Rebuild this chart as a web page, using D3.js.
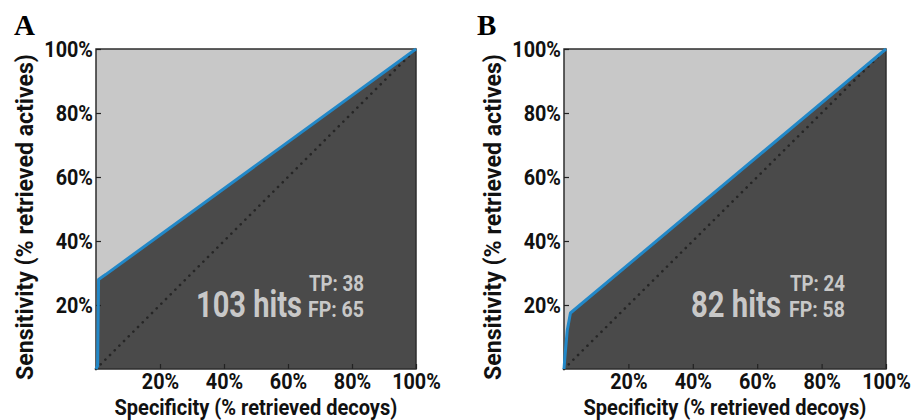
<!DOCTYPE html>
<html>
<head>
<meta charset="utf-8">
<script src="https://cdn.jsdelivr.net/npm/d3@7"></script>
<style>
  body { margin: 0; background: #fff; }
  svg text { font-family: Roboto, "Noto Sans", sans-serif; font-weight: bold; }
</style>
</head>
<body>
<svg id="chart" width="922" height="420"></svg>
<script>
// data
var panelLabels = ['A', 'B'];
var rocSpecA = [0, 0.5, 0.8, 3, 100];
var rocSensA = [0, 1, 28, 29.5, 100];
var rocSpecB = [0, 0.3, 1, 2, 100];
var rocSensB = [0, 4, 12, 17.5, 100];
var hits = [103, 82];
var truePos = [38, 24];
var falsePos = [65, 58];
var tickValues = [20, 40, 60, 80, 100];

// layout
var panelLeft = [96, 564];
var panelWidth = [320, 322];
var letterX = [14, 477];
var hitsEnd = [302, 781];     // right edge of the "n hits" text
var hitsLen = [106, 90];
var tpX = [308, 789];
var TOP = 49, BOTTOM = 369;

var LIGHT = '#c8c8c8', DARK = '#4a4a4a', BLUE = '#2288c8';

var svg = d3.select('#chart');

// squeeze a text horizontally (condensed look) so it is `w` px wide
function condense(t, x, y, w, rot){
  var len = t.node().getComputedTextLength();
  t.attr('transform', 'translate(' + x + ',' + y + ')' + (rot ? ' rotate(' + rot + ')' : '') +
    ' scale(' + (w / len) + ',1)');
}

function drawPanel(i, spec, sens){
  var x = d3.scaleLinear().domain([0, 100]).range([panelLeft[i], panelLeft[i] + panelWidth[i]]);
  var y = d3.scaleLinear().domain([0, 100]).range([BOTTOM, TOP]);
  var pts = spec.map(function(s, j){ return [s, sens[j]]; });
  var g = svg.append('g');

  // light background (not retrieved)
  g.append('rect')
    .attr('x', x(0)).attr('y', y(100))
    .attr('width', x(100) - x(0)).attr('height', y(0) - y(100))
    .attr('fill', LIGHT);

  // dark area under the roc curve
  var area = d3.area()
    .x(function(d){ return x(d[0]); })
    .y0(y(0))
    .y1(function(d){ return y(d[1]); });
  g.append('path').datum(pts).attr('d', area).attr('fill', DARK);

  // random diagonal, dotted
  g.append('line')
    .attr('x1', x(0)).attr('y1', y(0)).attr('x2', x(100)).attr('y2', y(100))
    .attr('stroke', '#262626').attr('stroke-width', 2.6)
    .attr('stroke-linecap', 'round')
    .attr('stroke-dasharray', '0.1 6.5');

  // frame
  g.append('rect')
    .attr('x', x(0)).attr('y', y(100))
    .attr('width', x(100) - x(0)).attr('height', y(0) - y(100))
    .attr('fill', 'none').attr('stroke', '#2e2e2e').attr('stroke-width', 1.5);

  // axes, ticks drawn inward
  var fmt = function(d){ return d + '%'; };
  var xAxis = d3.axisBottom(x).tickValues(tickValues).tickSizeInner(-5).tickSizeOuter(0).tickFormat(fmt);
  var yAxis = d3.axisLeft(y).tickValues(tickValues).tickSizeInner(-5).tickSizeOuter(0).tickFormat(fmt);

  var gx = g.append('g').attr('transform', 'translate(0,' + y(0) + ')').call(xAxis);
  var gy = g.append('g').attr('transform', 'translate(' + x(0) + ',0)').call(yAxis);
  [gx, gy].forEach(function(a){
    a.select('.domain').remove();
    a.selectAll('line').attr('stroke', '#222').attr('stroke-width', 1.2);
    a.selectAll('text').attr('fill', '#111').style('font-size', '22px');
  });
  gx.selectAll('text').attr('y', 0).attr('dy', 0).attr('transform', 'translate(0,20) scale(0.9,1)');
  gy.selectAll('text').attr('x', 0).attr('transform', 'translate(-3,0) scale(0.9,1)');

  // roc curve
  var line = d3.line().x(function(d){ return x(d[0]); }).y(function(d){ return y(d[1]); });
  g.append('path').datum(pts).attr('d', line)
    .attr('fill', 'none').attr('stroke', BLUE).attr('stroke-width', 3)
    .attr('stroke-linejoin', 'round');

  // hit counts
  var th = g.append('text').attr('fill', LIGHT).style('font-size', '37px').text(hits[i] + ' hits');
  condense(th, hitsEnd[i] - hitsLen[i], 317, hitsLen[i]);
  var tp = g.append('text').attr('fill', LIGHT).style('font-size', '22px').text('TP: ' + truePos[i]);
  condense(tp, tpX[i] + 1, 291, 55);
  var fp = g.append('text').attr('fill', LIGHT).style('font-size', '22px').text('FP: ' + falsePos[i]);
  condense(fp, tpX[i], 317, 56);

  // axis titles
  var xt = g.append('text').attr('fill', '#111').style('font-size', '22px')
    .text('Specificity (% retrieved decoys)');
  condense(xt, x(50) - 141.5, 415, 283);
  var yt = g.append('text').attr('fill', '#111').style('font-size', '23px')
    .text('Sensitivity (% retrieved actives)');
  condense(yt, x(0) - 63, 217 + 163, 326, -90);

  // panel letter
  g.append('text')
    .attr('x', letterX[i]).attr('y', 35)
    .attr('fill', '#000')
    .style('font-family', '"Liberation Serif", "Times New Roman", serif')
    .style('font-size', '29px')
    .text(panelLabels[i]);
}

drawPanel(0, rocSpecA, rocSensA);
drawPanel(1, rocSpecB, rocSensB);
</script>
</body>
</html>
